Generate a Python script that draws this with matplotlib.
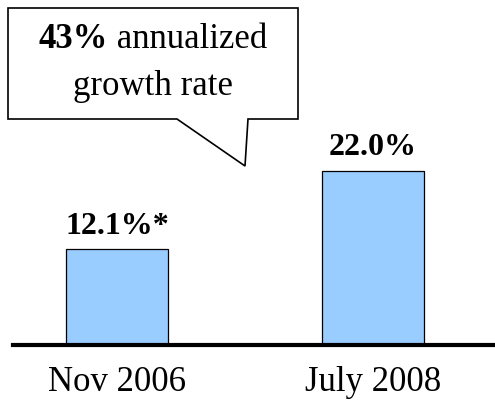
import matplotlib.pyplot as plt
from matplotlib.patches import Polygon

categories = ["Nov 2006", "July 2008"]
values = [12.1, 22.0]
value_labels = ["12.1%*", "22.0%"]
callout_bold = "43%"
callout_rest = " annualized"
callout_line2 = "growth rate"

plt.rcParams['font.family'] = ['Liberation Serif', 'DejaVu Serif']

W, H = 495, 400
fig = plt.figure(figsize=(W / 100, H / 100), dpi=100)

# axes: left edge at x=13px, baseline at y=345px
ax = fig.add_axes([13 / W, 55 / H, 1 - 13 / W, 345 / H])
x = [0, 1]
ax.bar(x, values, width=0.4, color='#99CCFF', edgecolor='black', linewidth=0.9, zorder=2)
ax.set_xlim(-0.406, 1.477)
ax.set_ylim(0, 43.5)
for s in ['top', 'left', 'right']:
    ax.spines[s].set_visible(False)
ax.spines['bottom'].set_linewidth(3)
ax.spines['bottom'].set_zorder(3)
ax.set_yticks([])
ax.set_xticks(x)
ax.set_xticklabels(categories, fontsize=25)
ax.tick_params(axis='x', length=0, pad=15)

for xi, v, lab in zip(x, values, value_labels):
    ax.annotate(lab, (xi, v), xytext=(0, 6), textcoords='offset points',
                ha='center', va='bottom', fontsize=23, fontweight='bold')

# speech bubble callout (pixel coords, y measured from top)
pts = [(8, 8), (298, 8), (298, 119), (248, 119), (245, 166), (177, 119), (8, 119)]
poly = Polygon([(px / W, 1 - py / H) for px, py in pts], closed=True,
               transform=fig.transFigure, facecolor='white', edgecolor='black', linewidth=1.2)
fig.patches.append(poly)

t1 = fig.text(0.5, 0.5, callout_bold, fontsize=25, fontweight='bold', ha='left', va='baseline')
t2 = fig.text(0.5, 0.5, callout_rest, fontsize=25, ha='left', va='baseline')
fig.canvas.draw()
r = fig.canvas.get_renderer()
w1 = t1.get_window_extent(r).width
w2 = t2.get_window_extent(r).width
x0 = 153 - (w1 + w2) / 2
t1.set_position((x0 / W, 1 - 48 / H))
t2.set_position(((x0 + w1) / W, 1 - 48 / H))
fig.text(153 / W, 1 - 95 / H, callout_line2, fontsize=25, ha='center', va='baseline')

fig.savefig("out.png", dpi=100)
